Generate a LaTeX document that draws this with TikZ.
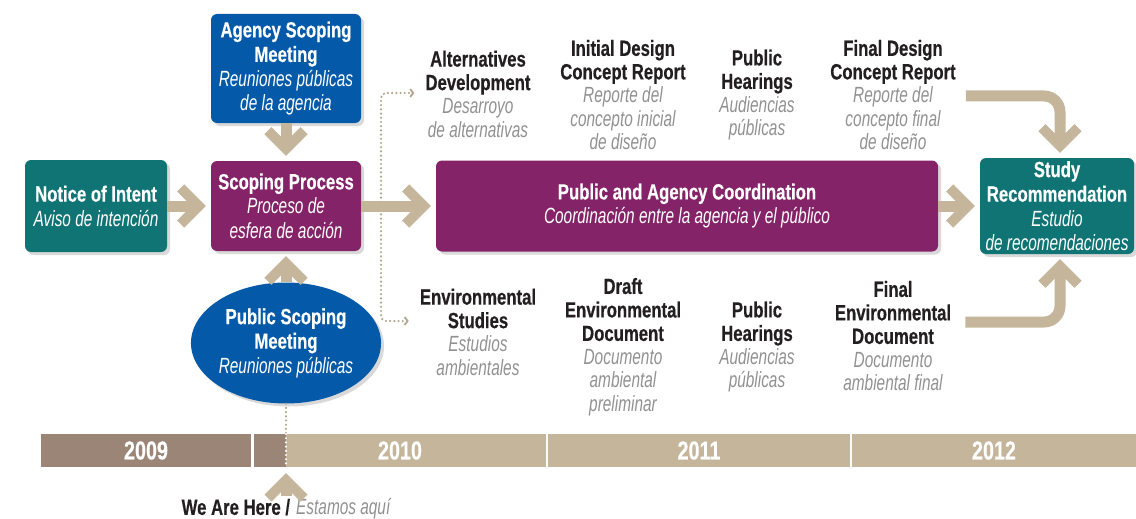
\documentclass[tikz,border=0pt]{standalone}
\usepackage{fontspec}
\setmainfont{Liberation Sans}[BoldFeatures={FakeStretch=0.76,FakeBold=0.4},ItalicFeatures={FakeStretch=0.7}]
\usepackage{xcolor}
\usepackage{tikz}
\usetikzlibrary{positioning,shapes,shadows,arrows.meta}
\definecolor{tealbox}{RGB}{16,116,116}
\definecolor{bluebox}{RGB}{4,90,168}
\definecolor{plumbox}{RGB}{133,35,104}
\definecolor{tanflow}{RGB}{196,181,155}
\definecolor{dottan}{RGB}{178,165,142}
\definecolor{pastbar}{RGB}{155,133,119}
\definecolor{textgray}{RGB}{145,145,145}
\definecolor{textdark}{RGB}{35,31,32}
\newcommand{\en}[1]{{\bfseries #1}}
\newcommand{\es}[1]{{\itshape #1}}
\newcommand{\esg}[1]{{\itshape\color{textgray}#1}}
\tikzstyle{stage}=[rectangle, rounded corners=6pt, text=white, align=center, inner sep=0pt,
        drop shadow={shadow xshift=3pt, shadow yshift=-3pt, opacity=0.3},
        font=\fontsize{22}{24.5}\selectfont]
\tikzstyle{milestone}=[align=center, inner sep=2pt, text=textdark, font=\fontsize{22}{23.5}\selectfont]
\tikzstyle{flow}=[draw=tanflow, line width=11pt, shorten >=5pt,
        -{Straight Barb[length=18pt, width=36pt, line width=10pt, sharp]}]
\tikzstyle{dotline}=[draw=dottan, line width=2.4pt, line cap=round, dash pattern=on 0pt off 4.2pt]
\tikzstyle{year}=[rectangle, inner sep=0pt, minimum height=33pt, text=white,
        font=\bfseries\fontsize{26}{26}\selectfont]

\begin{document}
\begin{tikzpicture}[x=1pt, y=-1pt]
    \useasboundingbox (0,0) rectangle (1136,519);
    % boxes of the process
    \node (notice) [stage, fill=tealbox, minimum width=142, minimum height=92] at (96,206)
        {\en{Notice of Intent}\\\es{Aviso de intención}};
    \node (agency) [stage, fill=bluebox, minimum width=150, minimum height=109] at (286,68.5)
        {\en{Agency Scoping}\\\en{Meeting}\\\es{Reuniones públicas}\\\es{de la agencia}};
    \node (scoping) [stage, fill=plumbox, minimum width=150, minimum height=90] at (286,206)
        {\en{Scoping Process}\\\es{Proceso de}\\\es{esfera de acción}};
    \node (pubmeet) [stage, ellipse, fill=bluebox, minimum width=168, minimum height=121] at (286,343)
        {\en{Public Scoping}\\\en{Meeting}\\\es{Reuniones públicas}};
    \node (coord) [stage, fill=plumbox, minimum width=502, minimum height=91] at (687,206)
        {\en{Public and Agency Coordination}\\\es{Coordinación entre la agencia y el público}};
    \node (study) [stage, fill=tealbox, minimum width=154, minimum height=96] at (1057,206)
        {\en{Study}\\\en{Recommendation}\\\es{Estudio}\\\es{de recomendaciones}};

    % milestones above and below
    \node (altdev) [milestone] at (478,94)
        {\en{Alternatives}\\\en{Development}\\\esg{Desarroyo}\\\esg{de alternativas}};
    \node (idcr) [milestone] at (623,95)
        {\en{Initial Design}\\\en{Concept Report}\\\esg{Reporte del}\\\esg{concepto inicial}\\\esg{de diseño}};
    \node (hearup) [milestone] at (757,95)
        {\en{Public}\\\en{Hearings}\\\esg{Audiencias}\\\esg{públicas}};
    \node (fdcr) [milestone] at (893,95)
        {\en{Final Design}\\\en{Concept Report}\\\esg{Reporte del}\\\esg{concepto final}\\\esg{de diseño}};
    \node (envst) [milestone] at (478,332)
        {\en{Environmental}\\\en{Studies}\\\esg{Estudios}\\\esg{ambientales}};
    \node (dedoc) [milestone] at (623,347)
        {\en{Draft}\\\en{Environmental}\\\en{Document}\\\esg{Documento}\\\esg{ambiental}\\\esg{preliminar}};
    \node (heardown) [milestone] at (757,347)
        {\en{Public}\\\en{Hearings}\\\esg{Audiencias}\\\esg{públicas}};
    \node (fedoc) [milestone] at (893,336)
        {\en{Final}\\\en{Environmental}\\\en{Document}\\\esg{Documento}\\\esg{ambiental final}};

    % time line
    \node (y2009) [year, fill=pastbar, minimum width=210] at (146,450.5) {2009};
    \node (y2010) [year, fill=tanflow, minimum width=292] at (400,450.5) {2010};
    \node (elapsed) [year, fill=pastbar, minimum width=32] at (270,450.5) {};
    \node (y2011) [year, fill=tanflow, minimum width=302] at (699,450.5) {2011};
    \node (y2012) [year, fill=tanflow, minimum width=284] at (994,450.5) {2012};
    \coordinate (nowtop) at (286,434);
    \coordinate (nowmark) at (286,467);
    \node (here) [milestone, inner sep=0pt] at (286,509) {\en{We Are Here /} \esg{Estamos aquí}};

    % dotted connectors
    \coordinate (fork) at (381,206);
    \draw[dotline, rounded corners=5pt, -{Straight Barb[length=3pt, width=8pt, line width=1.8pt]},
        shorten >=9pt] (fork) |- ([yshift=1pt]altdev.west);
    \draw[dotline, rounded corners=5pt, -{Straight Barb[length=3pt, width=8pt, line width=1.8pt]},
        shorten >=9pt] (fork) |- ([yshift=11pt]envst.west);
    \draw[dotline] (pubmeet.south) -- (nowtop);
    \draw[dotline, draw=white] (nowtop) -- (nowmark);

    % flow arrows
    \draw[flow] (notice) -- (scoping);
    \draw[flow] (agency) -- (scoping);
    \draw[flow] (pubmeet) -- (scoping);
    \draw[flow] (scoping) -- (coord);
    \draw[flow] (coord) -- (study);
    \draw[flow, rounded corners=16pt] ([xshift=8pt,yshift=-1pt]fdcr.east) -| ([xshift=3pt]study.north);
    \draw[flow, rounded corners=16pt] ([xshift=12pt,yshift=14pt]fedoc.east) -| ([xshift=3pt]study.south);
    \draw[flow, shorten >=6pt] ([yshift=2pt]here.north) -- (nowmark);
\end{tikzpicture}
\end{document}
